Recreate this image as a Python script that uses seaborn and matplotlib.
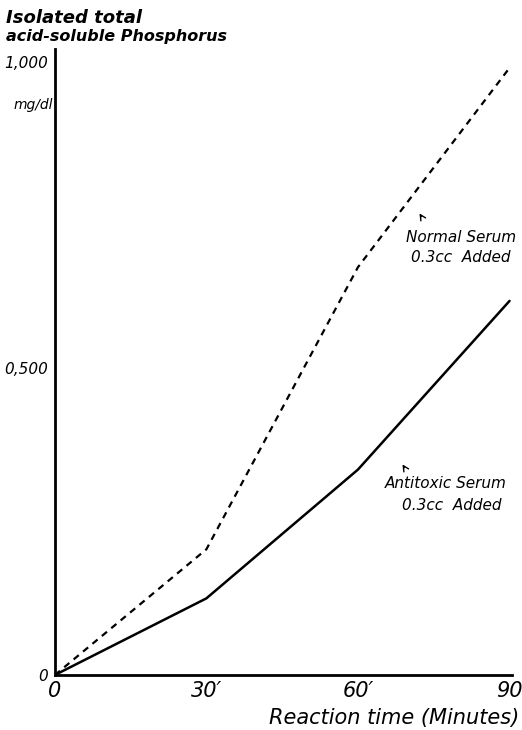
import matplotlib
matplotlib.use("Agg")
import matplotlib.pyplot as plt
import seaborn as sns
import pandas as pd

minutes = [0, 30, 60, 90]
normal_serum = [0.0, 0.205, 0.665, 0.99]
antitoxic_serum = [0.0, 0.125, 0.335, 0.61]
x_tick_labels = ["0", "30′", "60′", "90"]
y_ticks = [0, 0.5, 1.0]
y_tick_labels = ["0", "0,500", "1,000"]

sns.set_style("white")
plt.rcParams['font.family'] = ['DejaVu Sans']

df = pd.DataFrame({
    "minutes": minutes * 2,
    "value": normal_serum + antitoxic_serum,
    "series": ["Normal"] * 4 + ["Antitoxic"] * 4,
})

fig = plt.figure(figsize=(5.22, 7.30), dpi=100)
ax = fig.add_axes([0.105, 0.0753, 0.876, 0.857])

sns.lineplot(data=df[df.series == "Normal"], x="minutes", y="value", ax=ax,
             color="black", linewidth=1.6, linestyle=(0, (3, 2.5)), legend=False)
sns.lineplot(data=df[df.series == "Antitoxic"], x="minutes", y="value", ax=ax,
             color="black", linewidth=1.8, legend=False)

ax.set_xlim(0, 90.5)
ax.set_ylim(0, 1.02)
for s in ["top", "right"]:
    ax.spines[s].set_visible(False)
for s in ["left", "bottom"]:
    ax.spines[s].set_linewidth(2)
    ax.spines[s].set_color("black")

ax.set_xticks(minutes)
ax.set_xticklabels(x_tick_labels, fontsize=15, style="italic")
ax.set_yticks(y_ticks)
ax.set_yticklabels(y_tick_labels, fontsize=11, style="italic")
ax.tick_params(axis="both", direction="in", length=6, width=1.2, colors="black")
ax.tick_params(axis="x", pad=4)
ax.tick_params(axis="y", pad=5)
ax.set_xlabel("")
ax.set_ylabel("")

hand = dict(style="italic", color="black")
fig.text(0.012, 0.975, "Isolated total", fontsize=13, weight="bold", **hand, va="center")
fig.text(0.012, 0.950, "acid-soluble Phosphorus", fontsize=11.5, weight="bold", **hand, va="center")
fig.text(0.025, 0.856, "mg/dl", fontsize=10, **hand, va="center")
fig.text(0.995, 0.017, "Reaction time (Minutes)", fontsize=15, ha="right", va="center", **hand)

ax.annotate("", xy=(418 / 522, 1 - 211 / 730), xytext=(423 / 522, 1 - 219 / 730),
            xycoords="figure fraction", textcoords="figure fraction",
            arrowprops=dict(arrowstyle="->", color="black", lw=1))
fig.text(0.988, 1 - 237 / 730, "Normal Serum", fontsize=11, ha="right", va="center", **hand)
fig.text(0.978, 1 - 258 / 730, "0.3cc  Added", fontsize=11, ha="right", va="center", **hand)

ax.annotate("", xy=(401 / 522, 1 - 462 / 730), xytext=(406 / 522, 1 - 470 / 730),
            xycoords="figure fraction", textcoords="figure fraction",
            arrowprops=dict(arrowstyle="->", color="black", lw=1))
fig.text(0.97, 1 - 484 / 730, "Antitoxic Serum", fontsize=11, ha="right", va="center", **hand)
fig.text(0.96, 1 - 505 / 730, "0.3cc  Added", fontsize=11, ha="right", va="center", **hand)

fig.savefig("out.png", dpi=100, facecolor="white")
